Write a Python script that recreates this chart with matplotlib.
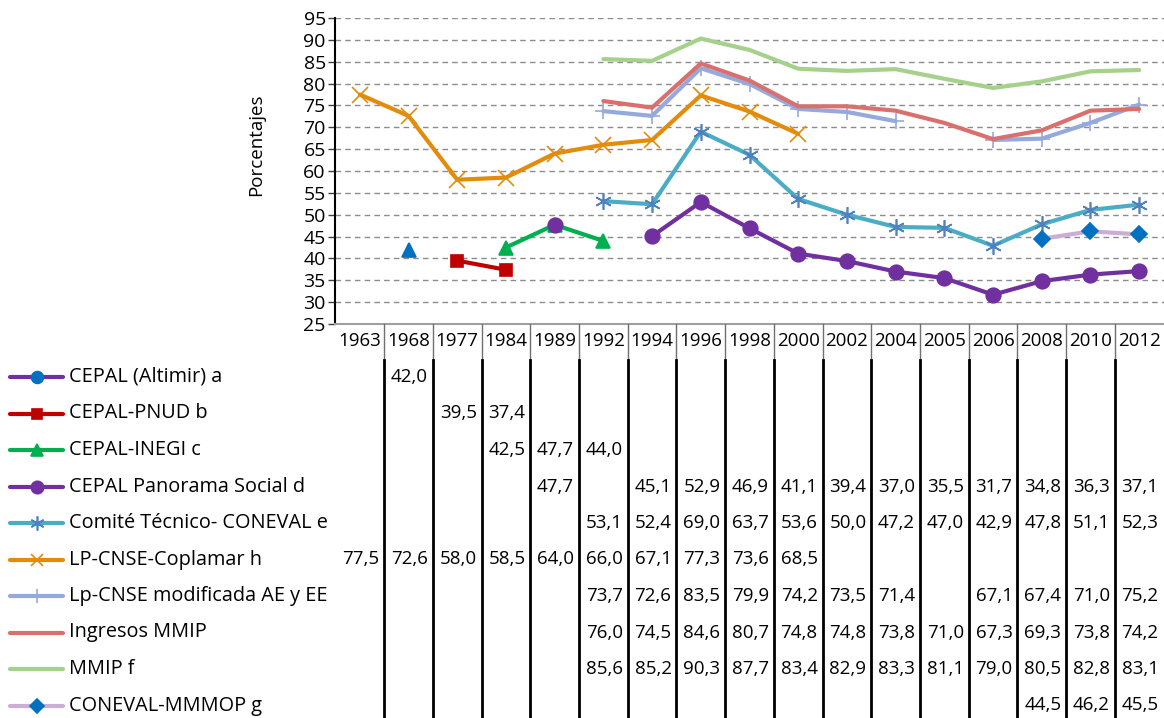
import numpy as np
import matplotlib
matplotlib.use("Agg")
import matplotlib.pyplot as plt
import matplotlib.transforms as mtransforms

plt.rcParams['font.family'] = ['Open Sans', 'DejaVu Sans']

nan = np.nan
years = ['1963', '1968', '1977', '1984', '1989', '1992', '1994', '1996', '1998',
         '2000', '2002', '2004', '2005', '2006', '2008', '2010', '2012']

altimir = [nan, 42.0, nan, nan, nan, nan, nan, nan, nan, nan, nan, nan, nan, nan, nan, nan, nan]
pnud = [nan, nan, 39.5, 37.4, nan, nan, nan, nan, nan, nan, nan, nan, nan, nan, nan, nan, nan]
inegi = [nan, nan, nan, 42.5, 47.7, 44.0, nan, nan, nan, nan, nan, nan, nan, nan, nan, nan, nan]
panorama = [nan, nan, nan, nan, 47.7, nan, 45.1, 52.9, 46.9, 41.1, 39.4, 37.0, 35.5, 31.7, 34.8, 36.3, 37.1]
comite = [nan, nan, nan, nan, nan, 53.1, 52.4, 69.0, 63.7, 53.6, 50.0, 47.2, 47.0, 42.9, 47.8, 51.1, 52.3]
coplamar = [77.5, 72.6, 58.0, 58.5, 64.0, 66.0, 67.1, 77.3, 73.6, 68.5, nan, nan, nan, nan, nan, nan, nan]
lp_mod = [nan, nan, nan, nan, nan, 73.7, 72.6, 83.5, 79.9, 74.2, 73.5, 71.4, nan, 67.1, 67.4, 71.0, 75.2]
ingresos = [nan, nan, nan, nan, nan, 76.0, 74.5, 84.6, 80.7, 74.8, 74.8, 73.8, 71.0, 67.3, 69.3, 73.8, 74.2]
mmip = [nan, nan, nan, nan, nan, 85.6, 85.2, 90.3, 87.7, 83.4, 82.9, 83.3, 81.1, 79.0, 80.5, 82.8, 83.1]
mmmop = [nan, nan, nan, nan, nan, nan, nan, nan, nan, nan, nan, nan, nan, nan, 44.5, 46.2, 45.5]

names = ['CEPAL (Altimir) a', 'CEPAL-PNUD b', 'CEPAL-INEGI c', 'CEPAL Panorama Social d',
         'Comité Técnico- CONEVAL e', 'LP-CNSE-Coplamar h', 'Lp-CNSE modificada AE y EE',
         'Ingresos MMIP', 'MMIP f', 'CONEVAL-MMMOP g']
series = [altimir, pnud, inegi, panorama, comite, coplamar, lp_mod, ingresos, mmip, mmmop]

# style: line colour, marker, marker colour, marker size, key marker
star = (6, 2, 0)
styles = [
    ('#7030A0', '^', '#0070C0', 10, 'o'),
    ('#C00000', 's', '#C00000', 9, 's'),
    ('#00B050', '^', '#00B050', 10, '^'),
    ('#7030A0', 'o', '#7030A0', 10.5, 'o'),
    ('#4BACC6', star, '#4F81BD', 12, star),
    ('#E38C0C', 'x', '#E38C0C', 11, 'x'),
    ('#95A9DC', '+', '#95A9DC', 12, '+'),
    ('#D9706E', None, None, 0, None),
    ('#A5D18C', None, None, 0, None),
    ('#CCADD6', 'D', '#0070C0', 8, 'D'),
]

W, H = 1164, 718
fig = plt.figure(figsize=(W / 100, H / 100), dpi=100)
ax = fig.add_axes([335.5 / W, 1 - 324 / H, (1163.5 - 335.5) / W, (324 - 18) / H])

x = np.arange(len(years))
for vals, (lc, mk, mc, ms, km) in zip(series, styles):
    v = np.array(vals, dtype=float)
    if mk is None:
        ax.plot(x, v, color=lc, lw=3, solid_capstyle='round')
    else:
        ax.plot(x, v, color=lc, lw=3, marker=mk, ms=ms, mfc=mc, mec=mc, mew=1.2,
                solid_capstyle='round')

ax.set_xlim(-0.5, len(years) - 0.5)
ax.set_ylim(25, 95)
ax.set_yticks(np.arange(25, 96, 5))
ax.set_xticks([])
ax.tick_params(axis='y', labelsize=14, length=5, width=1, pad=2, color='#404040')
for yv in range(30, 96, 5):
    ax.axhline(yv, color='#8C8C8C', lw=1, ls=(0, (4, 3)), zorder=0)
for s in ['top', 'right']:
    ax.spines[s].set_visible(False)
ax.spines['left'].set_color('black')
ax.spines['left'].set_linewidth(1.5)
ax.spines['bottom'].set_color('#A0A0A0')
ax.spines['bottom'].set_linewidth(1.5)
ax.set_ylabel('Porcentajes', fontsize=13.5)
ax.yaxis.set_label_coords(-0.085, 0.585)

# data table below the plot
tr = mtransforms.blended_transform_factory(ax.transData, fig.transFigure)
def fy(py):
    return 1 - py / H

header_y = 341
row_y = [377, 413.5, 450, 486.5, 523, 559.5, 596, 632.5, 669, 705.5]

for i, yr in enumerate(years):
    fig.text(i, fy(header_y), yr, transform=tr, ha='center', va='center', fontsize=13.5)

for i in range(len(years) - 1):
    fig.add_artist(plt.Line2D([i + 0.5, i + 0.5], [fy(324), fy(360)], transform=tr,
                              color='#707070', lw=1))
    fig.add_artist(plt.Line2D([i + 0.5, i + 0.5], [fy(360), fy(H)], transform=tr,
                              color='black', lw=2))

for r, (name, vals, (lc, mk, mc, ms, km)) in enumerate(zip(names, series, styles)):
    yy = fy(row_y[r])
    fig.add_artist(plt.Line2D([10 / W, 63 / W], [yy, yy], transform=fig.transFigure,
                              color=lc, lw=3, solid_capstyle='round'))
    if km is not None:
        fig.add_artist(plt.Line2D([37 / W], [yy], transform=fig.transFigure, marker=km,
                                  ms=ms * 0.85, mfc=mc, mec=mc, mew=1.2, lw=0))
    fig.text(69 / W, yy, name, ha='left', va='center', fontsize=14.3)
    for i, v in enumerate(vals):
        if not np.isnan(v):
            fig.text(i + 0.02, yy, f'{v:.1f}'.replace('.', ','), transform=tr,
                     ha='center', va='center', fontsize=13.5)

fig.savefig('out.png', dpi=100)
